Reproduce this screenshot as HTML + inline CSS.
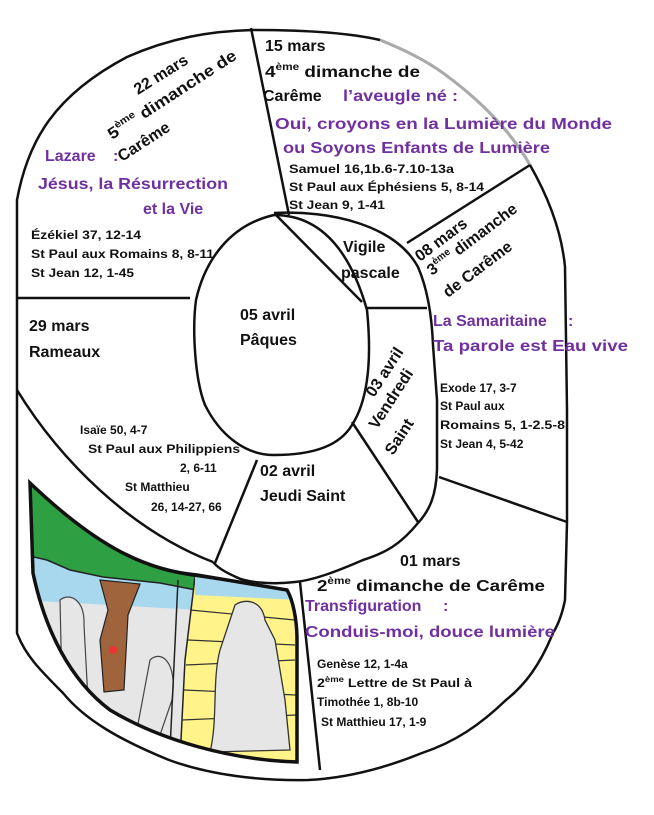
<!DOCTYPE html>
<html><head><meta charset="utf-8"><style>
html,body{margin:0;padding:0;background:#fff;}
svg{display:block;}
text{font-family:"Liberation Sans",sans-serif;font-weight:bold;}
.b{font-size:16px;fill:#111;}
.p{font-size:16px;fill:#7030a0;}
.s{font-size:12px;fill:#111;}
</style></head><body>
<svg width="654" height="815" viewBox="0 0 654 815" xmlns="http://www.w3.org/2000/svg">
<rect width="654" height="815" fill="#fff"/>
<defs><clipPath id="pc"><path d="M30,483 C90,540 140,570 197,575 L287,590 C293,600 297,620 297,640 L297,762 C230,760 160,740 110,710 C70,680 45,630 33,573 Z"/></clipPath></defs>
<!-- picture -->
<g clip-path="url(#pc)">
<rect x="0" y="470" width="310" height="310" fill="#e6e6e6"/>
<path d="M20,540 L200,580 L200,610 L20,600 Z" fill="#a8d8ee"/>
<path d="M25,478 C90,540 140,570 200,577 L196,590 L160,583 L103,577 L70,570 L47,560 L25,555 Z" fill="#2ea043" stroke="#222" stroke-width="1.5"/>
<path d="M100,580 L140,584 L128,615 L124,690 L104,692 L100,640 L108,610 Z" fill="#a0643c" stroke="#222" stroke-width="1.2"/>
<path d="M195,577 L300,592 L300,770 L180,760 L185,660 Z" fill="#fff38a" stroke="#222" stroke-width="1.5"/>
<path d="M195,577 L300,592 L300,600 L195,595 Z" fill="#a8d8ee"/>
<path d="M190,610 L295,620 M188,640 L295,645 M186,665 L295,660 M184,690 L296,695 M182,720 L296,715" stroke="#333" stroke-width="1.2" fill="none"/>
<path d="M235,605 C245,598 262,600 265,620 L275,640 L285,700 L290,750 L210,752 C218,720 212,680 220,650 Z" fill="#e6e6e6" stroke="#333" stroke-width="1.3"/>
<path d="M60,600 C70,592 85,600 84,625 L88,700 L62,690 Z M150,660 C160,650 178,660 172,700 L160,735 L135,740 Z" fill="#e6e6e6" stroke="#444" stroke-width="1.2"/>
<circle cx="113" cy="650" r="4" fill="#e33"/>
<line x1="178" y1="580" x2="170" y2="750" stroke="#222" stroke-width="1.5"/>
</g>
<path d="M30,483 C90,540 140,570 197,575 L287,590 C293,600 297,620 297,640 L297,762 C230,760 160,740 110,710 C70,680 45,630 33,573 Z" fill="none" stroke="#111" stroke-width="3.5"/>
<!-- outer shape -->
<path d="M17,633 L17,200 C28,140 55,95 127,57 C170,38 210,31 253,30 C310,30 350,33 380,40 C405,50 425,60 443,73 C480,100 510,130 530,165 C550,200 562,235 565,267 L567,410 L567,522 L565,600 C562,615 558,625 553,633 C540,665 525,685 506,700 C480,725 455,742 422,753 C390,766 350,778 308,780 C260,781 210,775 169,760 C120,740 85,720 63,693 C40,670 25,655 17,633 Z" fill="none" stroke="#111" stroke-width="2.5"/>
<path d="M380,40 C405,50 425,60 443,73 C480,100 510,130 530,165" fill="none" stroke="#aaa" stroke-width="3"/>
<!-- inner circle -->
<path d="M274,215 C320,215 350,250 367,310 C372,360 368,400 352,425 C340,445 315,455 274,455 C245,455 220,435 205,405 C195,380 192,330 196,300 C205,260 230,225 274,215 Z" fill="none" stroke="#111" stroke-width="2.5"/>
<!-- ring -->
<path d="M274,213 C330,210 395,225 418,267 C428,290 432,320 433,345 L437,400 L437,470 C436,495 430,510 418,523 C400,545 385,553 363,560 C340,570 315,580 295,582 C270,585 245,582 236,577 C225,572 218,568 213,562" fill="none" stroke="#111" stroke-width="2.5"/>
<!-- dividers -->
<g stroke="#111" stroke-width="2.5" fill="none">
<line x1="251" y1="28" x2="289" y2="215"/>
<line x1="276" y1="215" x2="362" y2="302"/>
<line x1="367" y1="308" x2="427" y2="308"/>
<line x1="407" y1="243" x2="530" y2="165"/>
<line x1="17" y1="298" x2="190" y2="298"/>
<path d="M17,390 C60,460 130,530 213,562"/>
<line x1="257" y1="460" x2="215" y2="563"/>
<line x1="352" y1="422" x2="418" y2="522"/>
<line x1="439" y1="477" x2="567" y2="522"/>
<line x1="300" y1="582" x2="320" y2="770"/>
</g>
<!-- texts -->
<text class="b" x="265" y="51">15 mars</text>
<text class="b" x="265" y="77" textLength="155" lengthAdjust="spacingAndGlyphs">4<tspan font-size="10" dy="-7">ème</tspan><tspan dy="7"> dimanche de</tspan></text>
<text class="b" x="263" y="101">Carême</text>
<text class="p" x="343" y="101" textLength="115" lengthAdjust="spacingAndGlyphs">l’aveugle né :</text>
<text class="p" x="275" y="129" textLength="337" lengthAdjust="spacingAndGlyphs">Oui,  croyons en la Lumière du Monde</text>
<text class="p" x="283" y="153" textLength="267" lengthAdjust="spacingAndGlyphs">ou Soyons Enfants de Lumière</text>
<text class="s" x="289" y="173" textLength="165" lengthAdjust="spacingAndGlyphs">Samuel 16,1b.6-7.10-13a</text>
<text class="s" x="289" y="191" textLength="195" lengthAdjust="spacingAndGlyphs">St Paul aux Éphésiens 5, 8-14</text>
<text class="s" x="289" y="209" textLength="96" lengthAdjust="spacingAndGlyphs">St Jean 9, 1-41</text>

<g transform="translate(138,95) rotate(-32)"><text class="b" x="0" y="0">22 mars</text></g>
<g transform="translate(112,140) rotate(-33)"><text class="b" x="0" y="0" textLength="150" lengthAdjust="spacingAndGlyphs">5<tspan font-size="10" dy="-7">ème</tspan><tspan dy="7"> dimanche de</tspan></text></g>
<g transform="translate(122,162) rotate(-33)"><text class="b" x="0" y="0">Carême</text></g>
<text class="p" x="45" y="161">Lazare</text><text class="p" x="113" y="161">:</text>
<text class="p" x="38" y="189" textLength="190" lengthAdjust="spacingAndGlyphs">Jésus, la Résurrection</text>
<text class="p" x="143" y="214">et la Vie</text>
<text class="s" x="31" y="239" textLength="110" lengthAdjust="spacingAndGlyphs">Ézékiel 37, 12-14</text>
<text class="s" x="31" y="258" textLength="183" lengthAdjust="spacingAndGlyphs">St Paul aux Romains 8, 8-11</text>
<text class="s" x="31" y="277" textLength="103" lengthAdjust="spacingAndGlyphs">St Jean 12, 1-45</text>

<text class="b" x="29" y="331">29 mars</text>
<text class="b" x="29" y="357">Rameaux</text>
<text class="b" x="240" y="320">05 avril</text>
<text class="b" x="240" y="345">Pâques</text>
<text class="b" x="343" y="252">Vigile</text>
<text class="b" x="341" y="278">pascale</text>

<g transform="translate(420,262) rotate(-37)"><text class="b" x="0" y="0">08 mars</text></g>
<g transform="translate(432,276) rotate(-37)"><text class="b" x="0" y="0">3<tspan font-size="10" dy="-7">ème</tspan><tspan dy="7"> dimanche</tspan></text></g>
<g transform="translate(448,298) rotate(-37)"><text class="b" x="0" y="0">de Carême</text></g>
<text class="p" x="433" y="326">La Samaritaine</text><text class="p" x="568" y="326">:</text>
<text class="p" x="433" y="351" textLength="195" lengthAdjust="spacingAndGlyphs">Ta parole est  Eau vive</text>

<g transform="translate(374,398) rotate(-57)"><text class="b" x="0" y="0">03 avril</text></g>
<g transform="translate(377,430) rotate(-57)"><text class="b" x="0" y="0">Vendredi</text></g>
<g transform="translate(393,456) rotate(-57)"><text class="b" x="0" y="0">Saint</text></g>
<text class="s" x="440" y="392">Exode 17, 3-7</text>
<text class="s" x="440" y="410">St Paul aux</text>
<text class="s" x="440" y="429" textLength="125" lengthAdjust="spacingAndGlyphs">Romains 5, 1-2.5-8</text>
<text class="s" x="440" y="448">St Jean 4, 5-42</text>

<text class="s" x="80" y="434">Isaïe 50, 4-7</text>
<text class="s" x="88" y="453" textLength="152" lengthAdjust="spacingAndGlyphs">St Paul aux Philippiens</text>
<text class="s" x="180" y="472">2, 6-11</text>
<text class="s" x="125" y="491">St Matthieu</text>
<text class="s" x="151" y="511">26, 14-27, 66</text>
<text class="b" x="260" y="476">02 avril</text>
<text class="b" x="260" y="501">Jeudi Saint</text>

<text class="b" x="400" y="566">01 mars</text>
<text class="b" x="317" y="591" textLength="228" lengthAdjust="spacingAndGlyphs">2<tspan font-size="10" dy="-7">ème</tspan><tspan dy="7"> dimanche de Carême</tspan></text>
<text class="p" x="305" y="611">Transfiguration</text><text class="p" x="443" y="611">:</text>
<text class="p" x="305" y="637" textLength="250" lengthAdjust="spacingAndGlyphs">Conduis-moi,  douce lumière</text>
<text class="s" x="317" y="668">Genèse 12, 1-4a</text>
<text class="s" x="317" y="687" textLength="155" lengthAdjust="spacingAndGlyphs">2<tspan font-size="8" dy="-5">ème</tspan><tspan dy="5"> Lettre de St Paul à</tspan></text>
<text class="s" x="317" y="706">Timothée 1, 8b-10</text>
<text class="s" x="321" y="726">St Matthieu 17, 1-9</text>
</svg>
</body></html>
